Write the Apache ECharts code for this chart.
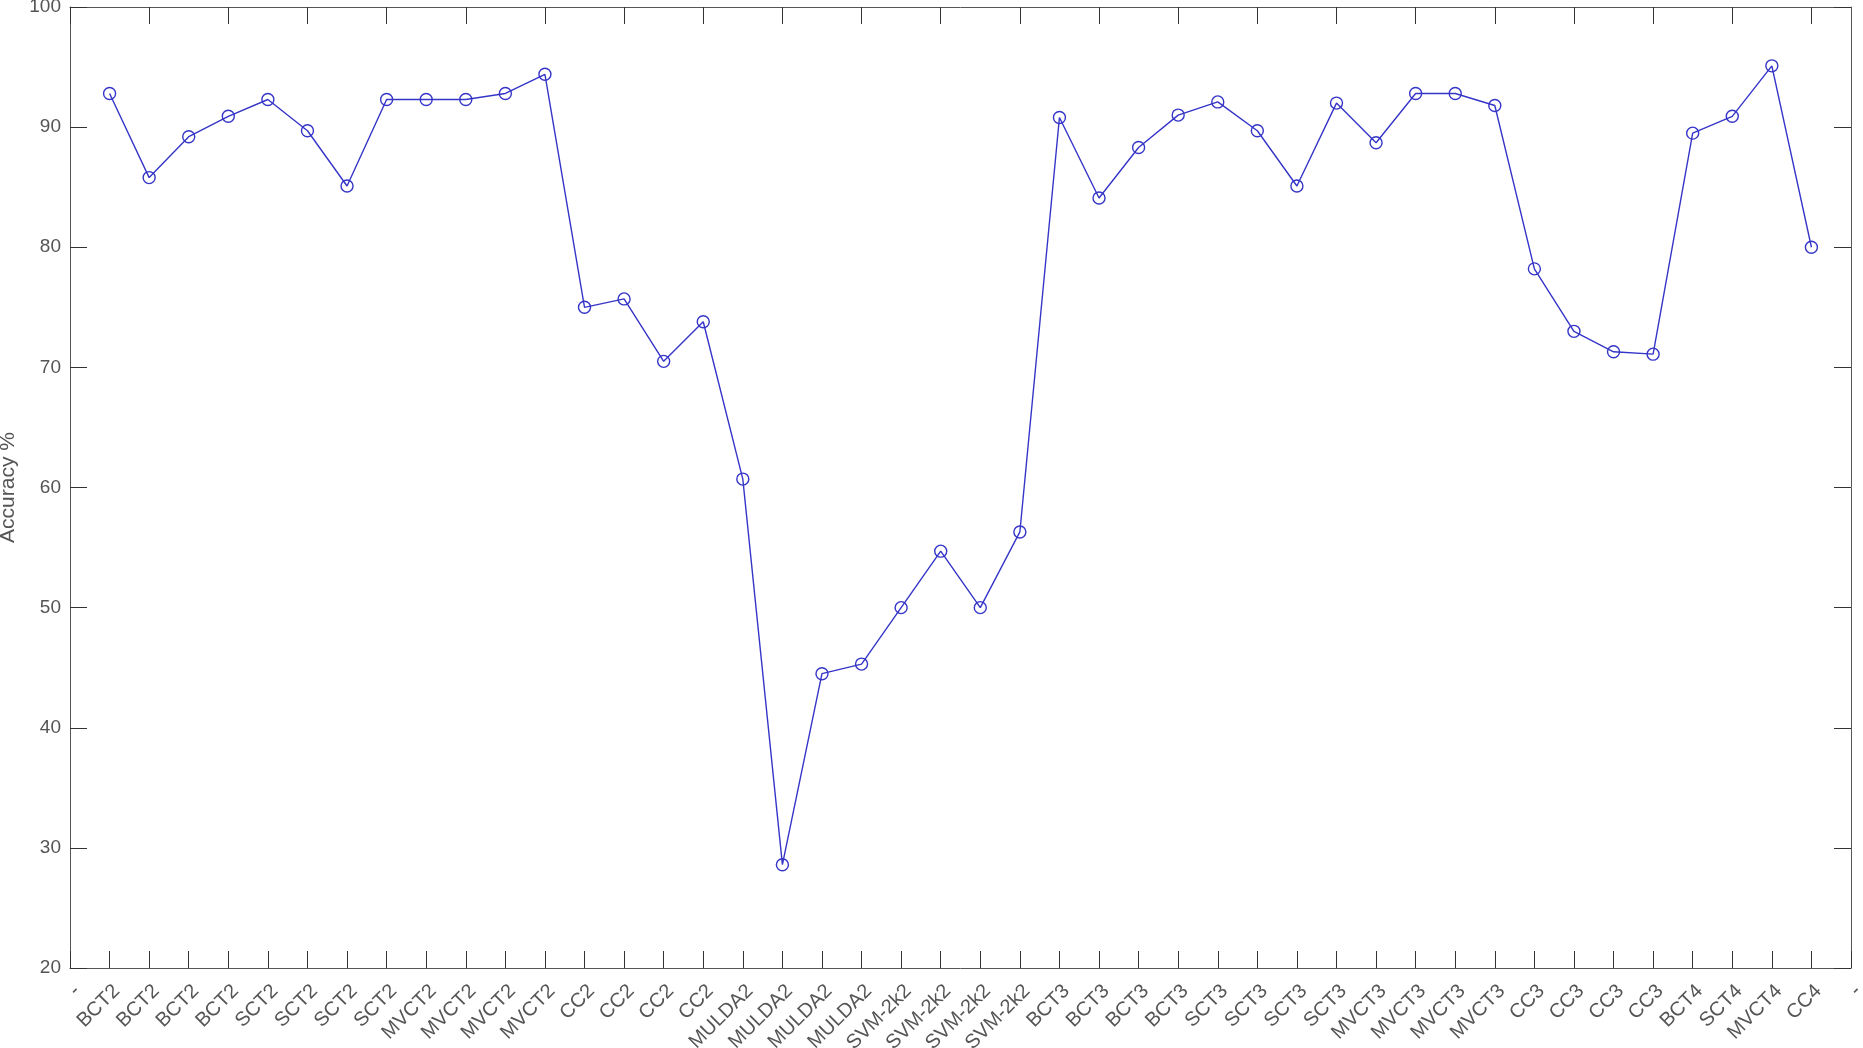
<!DOCTYPE html>
<html>
<head>
<meta charset="utf-8">
<title>Accuracy %</title>
<script src="https://cdn.jsdelivr.net/npm/echarts@6/dist/echarts.min.js"></script>
<style>
    html, body { margin: 0; padding: 0; background: #fff; }
    #chart { width: 1863px; height: 1048px; }
</style>
</head>
<body>
<div id="chart"></div>
<script>
// categories, with the empty end ticks drawn as a dash like the original figure
var categories = ['-',
    'BCT2', 'BCT2', 'BCT2', 'BCT2', 'SCT2', 'SCT2', 'SCT2', 'SCT2',
    'MVCT2', 'MVCT2', 'MVCT2', 'MVCT2', 'CC2', 'CC2', 'CC2', 'CC2',
    'MULDA2', 'MULDA2', 'MULDA2', 'MULDA2', 'SVM-2k2', 'SVM-2k2', 'SVM-2k2', 'SVM-2k2',
    'BCT3', 'BCT3', 'BCT3', 'BCT3', 'SCT3', 'SCT3', 'SCT3', 'SCT3',
    'MVCT3', 'MVCT3', 'MVCT3', 'MVCT3', 'CC3', 'CC3', 'CC3', 'CC3',
    'BCT4', 'SCT4', 'MVCT4', 'CC4',
    '-']

var accuracy = [
    92.8, 85.8, 89.2, 90.9, 92.3, 89.7, 85.1, 92.3,
    92.3, 92.3, 92.8, 94.4, 75.0, 75.7, 70.5, 73.8,
    60.7, 28.6, 44.5, 45.3, 50.0, 54.7, 50.0, 56.3,
    90.8, 84.1, 88.3, 91.0, 92.1, 89.7, 85.1, 92.0,
    88.7, 92.8, 92.8, 91.8, 78.2, 73.0, 71.3, 71.1,
    89.5, 90.9, 95.1, 80.0]

var yTicks = { min: 20, max: 100, step: 10 }

// pad the ends so the points sit on the inner ticks
var seriesData = [null].concat(accuracy).concat([null])

var axisColor = '#555'
var textColor = '#555'
var fontName = 'Liberation Sans, Arial, sans-serif'

var myChart = echarts.init(document.getElementById('chart'))
myChart.setOption({
    animation: false,
    backgroundColor: '#fff',
    grid: {
        left: 70,
        top: 7,
        right: 12,
        bottom: 80,
        containLabel: false,
        outerBoundsMode: 'none'
    },
    xAxis: [{
        type: 'category',
        data: categories,
        boundaryGap: false,
        axisLine: { lineStyle: { color: axisColor, width: 1 } },
        axisTick: {
            inside: true,
            length: 17,
            alignWithLabel: true,
            lineStyle: { color: '#333' }
        },
        axisLabel: {
            interval: 0,
            rotate: 45,
            margin: 13,
            verticalAlign: 'top',
            color: textColor,
            fontSize: 20,
            fontFamily: fontName
        },
        splitLine: { show: false }
    }, {
        type: 'category',
        position: 'top',
        data: categories,
        boundaryGap: false,
        axisLine: { lineStyle: { color: axisColor, width: 1 } },
        axisTick: {
            inside: true,
            length: 17,
            lineStyle: { color: '#333' }
        },
        axisLabel: { show: false },
        splitLine: { show: false }
    }],
    yAxis: [{
        type: 'value',
        min: yTicks.min,
        max: yTicks.max,
        interval: yTicks.step,
        name: 'Accuracy %',
        nameLocation: 'middle',
        nameGap: 50,
        nameTextStyle: {
            color: textColor,
            fontSize: 21,
            fontFamily: fontName
        },
        axisLine: { show: true, lineStyle: { color: axisColor, width: 1 } },
        axisTick: {
            show: true,
            inside: true,
            length: 17,
            lineStyle: { color: '#333' }
        },
        axisLabel: {
            margin: 9,
            color: textColor,
            fontSize: 19,
            fontFamily: fontName
        },
        splitLine: { show: false }
    }, {
        type: 'value',
        position: 'right',
        min: yTicks.min,
        max: yTicks.max,
        interval: yTicks.step,
        axisLine: { show: true, lineStyle: { color: axisColor, width: 1 } },
        axisTick: {
            show: true,
            inside: true,
            length: 17,
            lineStyle: { color: '#333' }
        },
        axisLabel: { show: false },
        splitLine: { show: false }
    }],
    series: [{
        type: 'line',
        data: seriesData,
        symbol: 'circle',
        symbolSize: 12,
        showAllSymbol: true,
        lineStyle: { color: '#3535c8', width: 1.4 },
        itemStyle: {
            color: 'rgba(0,0,0,0)',
            borderColor: '#3535c8',
            borderWidth: 1.4
        }
    }]
})
</script>
</body>
</html>
